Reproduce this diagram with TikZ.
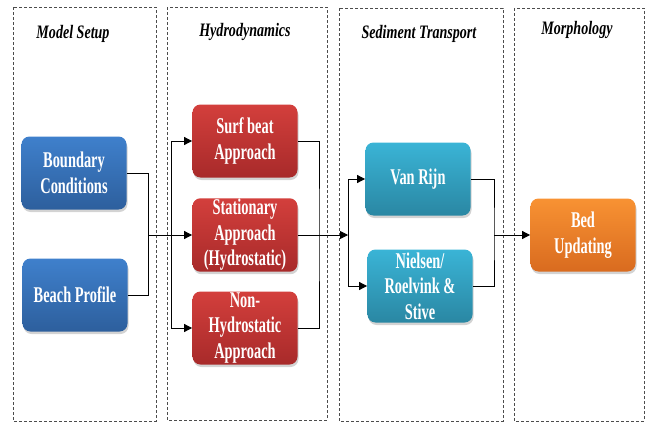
\documentclass[tikz,border=0pt]{standalone}
\usepackage{fontspec}
\usepackage{tikz}
\usetikzlibrary{arrows.meta}
\usetikzlibrary{shadows}
\newfontfamily\boxfont[FakeStretch=0.64]{Liberation Serif}
\newfontfamily\headfont[FakeStretch=0.74]{Liberation Serif}
\definecolor{bluetop}{HTML}{3F80CC}
\definecolor{bluebot}{HTML}{2D5F9D}
\definecolor{redtop}{HTML}{D33F3C}
\definecolor{redbot}{HTML}{A82A2A}
\definecolor{tealtop}{HTML}{3AB4D6}
\definecolor{tealbot}{HTML}{2A87A3}
\definecolor{orangetop}{HTML}{F89233}
\definecolor{orangebot}{HTML}{D96B1F}
\begin{document}
\begin{tikzpicture}[x=1pt,y=-1pt,
  box/.style={rounded corners=8pt,minimum width=105pt,minimum height=73pt,inner sep=1pt,
    align=center,text=white,font=\boxfont\bfseries\fontsize{22.5}{25.5}\selectfont,
    drop shadow={shadow xshift=1pt,shadow yshift=-2.5pt,opacity=0.35}},
  setup/.style={box,top color=bluetop,bottom color=bluebot},
  hydro/.style={box,top color=redtop,bottom color=redbot},
  sedi/.style={box,top color=tealtop,bottom color=tealbot},
  morph/.style={box,top color=orangetop,bottom color=orangebot},
  panel/.style={draw=black!70,line width=0.7pt,dash pattern=on 3pt off 2pt},
  head/.style={font=\headfont\bfseries\itshape\fontsize{19}{21}\selectfont},
  arr/.style={-{Triangle[length=8pt,width=8pt]}},
  line width=0.8pt]
\useasboundingbox (0,0) rectangle (646,423);
% dashed columns
\draw[panel] (13,7) rectangle (156,421);
\draw[panel] (167,7) rectangle (327,420);
\draw[panel] (339,8) rectangle (503,421);
\draw[panel] (514,8) rectangle (644,421);
\node[head] (hset) at (73,34) {Model Setup};
\node[head] (hhyd) at (245,32) {Hydrodynamics};
\node[head] (hsed) at (419,34) {Sediment Transport};
\node[head] (hmor) at (577,30) {Morphology};
% boxes
\node[setup] (bc) at (74,173) {Boundary\\Conditions};
\node[setup] (bp) at (75,295) {Beach Profile};
\node[hydro] (sb) at (245,141) {Surf beat\\Approach};
\node[hydro] (st) at (245,235) {Stationary\\Approach\\(Hydrostatic)};
\node[hydro] (nh) at (245,328) {Non-\\Hydrostatic\\Approach};
\node[sedi] (vr) at (418,179) {Van Rijn};
\node[sedi] (ns) at (420,286) {Nielsen/\\Roelvink \&\\Stive};
\node[morph] (bu) at (583,235) {Bed\\Updating};
% connectors
\coordinate (jin) at (148,235);
\coordinate (jhl) at (171,235);
\coordinate (jhr) at (319,235);
\coordinate (jsl) at (348,235);
\coordinate (jsr) at (494,235);
\draw (bc.east) -| (jin);
\draw (bp.east) -| (jin);
\draw[arr] (jin) -- (st.west);
\draw[arr] (jhl) |- (sb.west);
\draw[arr] (jhl) |- (nh.west);
\draw (sb.east) -| (jhr) |- (nh.east);
\draw[arr] (st.east) -- (jsl);
\draw[arr] (jsl) |- (vr.west);
\draw[arr] (jsl) |- (ns.west);
\draw (vr.east) -| (jsr) |- (ns.east);
\draw[arr] (jsr) -- (bu.west);
\end{tikzpicture}
\end{document}
